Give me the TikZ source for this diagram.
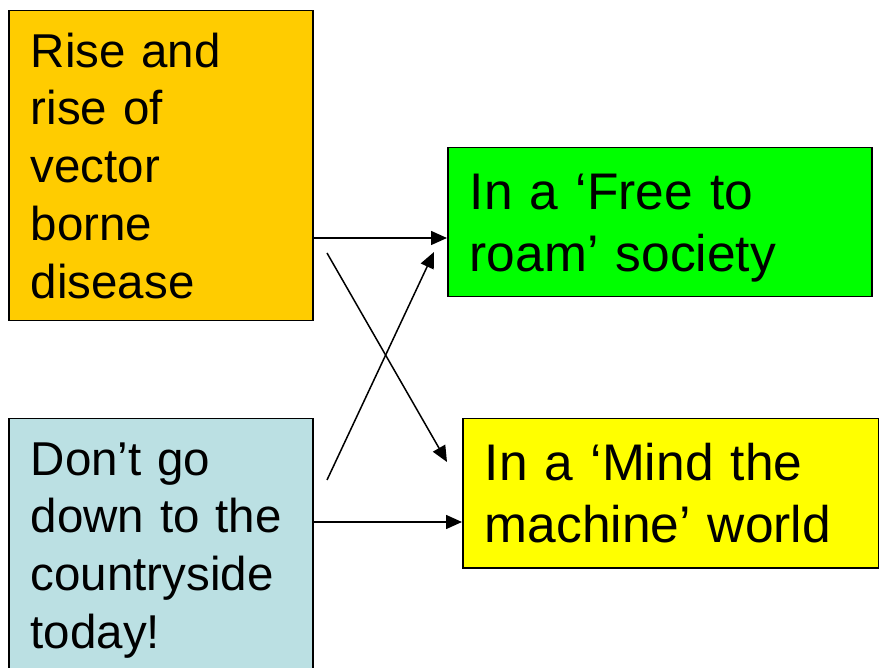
\documentclass[tikz,border=0pt]{standalone}
\usepackage{fontspec}
\setmainfont{Liberation Sans}
\usetikzlibrary{arrows.meta}
\definecolor{boxorange}{HTML}{FFCC00}
\definecolor{boxgreen}{HTML}{00FF00}
\definecolor{boxblue}{HTML}{BBE0E3}
\definecolor{boxyellow}{HTML}{FFFF00}
\tikzset{
  box/.style={draw=black, line width=1.5pt, anchor=north west, align=left,
    inner xsep=22pt, inner ysep=0pt, font=\fontsize{47.5}{57.75}\selectfont},
  bigbox/.style={box, font=\fontsize{51.5}{62}\selectfont},
  arr/.style={draw=black, line width=1.5pt, -{Triangle[length=16pt,width=14pt]}}
}
\begin{document}
\begin{tikzpicture}[x=1pt,y=-1pt]
\clip (0,0) rectangle (879,668);
\fill[white] (0,0) rectangle (879,668);
\node[box, fill=boxorange, text width=260pt, minimum height=310pt] (o) at (8,10)
  {Rise and\\rise of\\vector\\borne\\disease};
\node[bigbox, fill=boxgreen, text width=380pt, minimum height=149pt] (g) at (447,147) {};
\node[bigbox, draw=none, anchor=west, text width=380pt] (gt) at ([yshift=-6pt]g.west)
  {In a ‘Free to\\roam’ society};
\node[box, fill=boxblue, text width=260pt, minimum height=263pt] (b) at (8,418)
  {Don’t go\\down to the\\countryside\\today!};
\node[bigbox, fill=boxyellow, text width=372pt, minimum height=149pt] (y) at (462,418)
  {In a ‘Mind the\\machine’ world};
\coordinate (s1) at (327,253);
\coordinate (t1) at (447,462);
\coordinate (s2) at (327,480);
\coordinate (t2) at (434,252);
\draw[arr] (o.east |- 0,238) -- (g.west |- 0,238);
\draw[arr] (b.east |- 0,522) -- (y.west |- 0,522);
\draw[arr] (s1) -- (t1);
\draw[arr] (s2) -- (t2);
\end{tikzpicture}
\end{document}
